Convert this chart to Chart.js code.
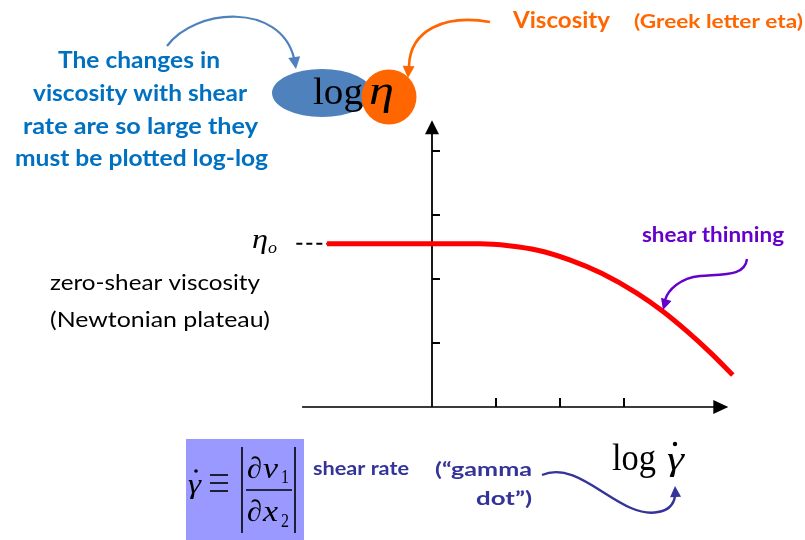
<!DOCTYPE html>
<html>
<head>
<meta charset="utf-8">
<script src="https://cdn.jsdelivr.net/npm/chart.js@4.4.1/dist/chart.umd.min.js"></script>
<style>
  html, body { margin: 0; padding: 0; background: #ffffff; }
  #wrap { width: 805px; height: 540px; position: relative; }
</style>
</head>
<body>
<div id="wrap"><canvas id="c" width="805" height="540"></canvas></div>
<script>
// log(shear rate) and log(viscosity) of the flow curve, in axis tick units
const curveX = [-1.64, 0.75, 1.2, 1.65, 2.15, 2.65, 3.2, 3.6, 4.0, 4.35, 4.7];
const curveY = [2.55, 2.55, 2.52, 2.45, 2.3, 2.09, 1.78, 1.5, 1.17, 0.85, 0.5];
// zero-shear plateau level and the dashed lead-in to its label
const plateauY = 2.55;
const dashX = [-2.12, -1.64];
// tick positions on the two log axes
const xTicks = [1, 2, 3];
const yTicks = [1, 2, 3, 4];
// axis extents (arrow tips)
const xAxisRange = [-2.03, 4.63];
const yAxisRange = [0, 4.48];

const points = curveX.map((x, i) => ({ x: x, y: curveY[i] }));

const SANS = 'Lato, "Open Sans", sans-serif';
const SERIF = '"Liberation Serif", "DejaVu Serif", serif';

function fitText(ctx, str, left, base, font, color, width) {
  ctx.save();
  ctx.font = font;
  const w = ctx.measureText(str).width;
  const s = width ? width / w : 1;
  ctx.translate(left, base);
  ctx.scale(s, 1);
  ctx.fillStyle = color;
  ctx.textAlign = 'left';
  ctx.textBaseline = 'alphabetic';
  ctx.fillText(str, 0, 0);
  ctx.restore();
}

function arrowHead(ctx, tipX, tipY, angle, len, half, color) {
  ctx.save();
  ctx.translate(tipX, tipY);
  ctx.rotate(angle);
  ctx.beginPath();
  ctx.moveTo(0, 0);
  ctx.lineTo(-len, -half);
  ctx.lineTo(-len, half);
  ctx.closePath();
  ctx.fillStyle = color;
  ctx.fill();
  ctx.restore();
}

const axesPlugin = {
  id: 'axesPlugin',
  beforeDatasetsDraw(chart) {
    const ctx = chart.ctx;
    const sx = chart.scales.x, sy = chart.scales.y;
    const X = v => sx.getPixelForValue(v);
    const Y = v => sy.getPixelForValue(v);
    ctx.save();
    // horizontal axis
    ctx.strokeStyle = '#3a3a3a';
    ctx.lineWidth = 2;
    ctx.beginPath();
    ctx.moveTo(X(xAxisRange[0]), Y(0));
    ctx.lineTo(X(xAxisRange[1]) - 10, Y(0));
    ctx.stroke();
    arrowHead(ctx, X(xAxisRange[1]), Y(0), 0, 15, 7, '#000');
    // vertical axis
    ctx.strokeStyle = '#000';
    ctx.lineWidth = 1.8;
    ctx.beginPath();
    ctx.moveTo(X(0), Y(yAxisRange[0]));
    ctx.lineTo(X(0), Y(yAxisRange[1]) + 10);
    ctx.stroke();
    arrowHead(ctx, X(0), Y(yAxisRange[1]), -Math.PI / 2, 14, 7, '#000');
    // ticks
    ctx.lineWidth = 2;
    ctx.strokeStyle = '#000';
    xTicks.forEach(t => {
      ctx.beginPath();
      ctx.moveTo(X(t), Y(0));
      ctx.lineTo(X(t), Y(0) - 9);
      ctx.stroke();
    });
    yTicks.forEach(t => {
      ctx.beginPath();
      ctx.moveTo(X(0), Y(t));
      ctx.lineTo(X(0) + 8, Y(t));
      ctx.stroke();
    });
    // dashed lead-in to the plateau
    ctx.setLineDash([6, 4]);
    ctx.lineWidth = 2;
    ctx.beginPath();
    ctx.moveTo(X(dashX[0]), Y(plateauY));
    ctx.lineTo(X(dashX[1]), Y(plateauY));
    ctx.stroke();
    ctx.setLineDash([]);
    ctx.restore();
  },
  afterDraw(chart) {
    const ctx = chart.ctx;
    const sy = chart.scales.y;
    ctx.save();

    // explanatory text, upper left
    const blue = '#0070C0';
    const bFont = 'bold 22px ' + SANS;
    fitText(ctx, 'The changes in', 58, 68, bFont, blue, 162);
    fitText(ctx, 'viscosity with shear', 33, 101, bFont, blue, 214);
    fitText(ctx, 'rate are so large they', 23, 134, bFont, blue, 235);
    fitText(ctx, 'must be plotted log-log', 15, 166, bFont, blue, 253);

    // blue ellipse and orange circle behind log(eta)
    ctx.fillStyle = '#4F81BD';
    ctx.beginPath();
    ctx.ellipse(322, 93, 50, 24, 0, 0, Math.PI * 2);
    ctx.fill();
    ctx.fillStyle = '#FF6600';
    ctx.beginPath();
    ctx.arc(389, 97, 27.5, 0, Math.PI * 2);
    ctx.fill();
    fitText(ctx, 'log', 313, 104, '38px ' + SERIF, '#000', 50);
    fitText(ctx, 'η', 369, 104, 'italic 40px ' + SERIF, '#000', 25);

    // curved pointer from the text to the ellipse
    ctx.strokeStyle = '#4F81BD';
    ctx.lineWidth = 2.2;
    ctx.beginPath();
    ctx.moveTo(167, 46);
    ctx.bezierCurveTo(195, 8, 280, 2, 294, 58);
    ctx.stroke();
    arrowHead(ctx, 296, 69, Math.PI / 2 - 0.15, 12, 6, '#4F81BD');

    // orange caption and pointer
    const orange = '#FF6600';
    fitText(ctx, 'Viscosity', 513, 28, 'bold 22px ' + SANS, orange, 97);
    fitText(ctx, '(Greek letter eta)', 634, 28, 'bold 18px ' + SANS, orange, 169);
    ctx.strokeStyle = orange;
    ctx.lineWidth = 2.6;
    ctx.beginPath();
    ctx.moveTo(490, 22);
    ctx.bezierCurveTo(445, 14, 410, 30, 409, 66);
    ctx.stroke();
    arrowHead(ctx, 408, 78, Math.PI / 2 + 0.05, 12, 6, orange);

    // eta_0 label at plateau height
    const py = sy.getPixelForValue(plateauY);
    fitText(ctx, 'η', 252, py + 4, 'italic 28px ' + SERIF, '#000', 16);
    fitText(ctx, 'o', 268, py + 9, 'italic 17px ' + SERIF, '#000', 9);
    fitText(ctx, 'zero-shear viscosity', 50, 290, '21px ' + SANS, '#000', 210);
    fitText(ctx, '(Newtonian plateau)', 50, 327, '21px ' + SANS, '#000', 220);

    // shear thinning label and pointer
    const purple = '#6600CC';
    fitText(ctx, 'shear thinning', 642, 242, 'bold 20px ' + SANS, purple, 142);
    ctx.strokeStyle = purple;
    ctx.lineWidth = 2.4;
    ctx.beginPath();
    ctx.moveTo(747, 259);
    ctx.bezierCurveTo(745, 276, 725, 274, 700, 276);
    ctx.bezierCurveTo(680, 278, 668, 290, 665, 300);
    ctx.stroke();
    arrowHead(ctx, 663, 310, Math.PI / 2 + 0.3, 11, 5.5, purple);

    // shear-rate definition box
    ctx.fillStyle = '#9999FF';
    ctx.fillRect(186, 439, 118, 101);
    ctx.fillStyle = '#000';
    fitText(ctx, 'γ', 188, 493, 'italic 28px ' + SERIF, '#000', 13);
    ctx.beginPath();
    ctx.arc(196, 471, 1.8, 0, Math.PI * 2);
    ctx.fill();
    ctx.strokeStyle = '#000';
    ctx.lineWidth = 1.6;
    [475, 483, 491].forEach(yy => {
      ctx.beginPath();
      ctx.moveTo(210, yy);
      ctx.lineTo(228, yy);
      ctx.stroke();
    });
    [242, 295].forEach(xx => {
      ctx.beginPath();
      ctx.moveTo(xx, 447);
      ctx.lineTo(xx, 533);
      ctx.stroke();
    });
    ctx.beginPath();
    ctx.moveTo(246, 490);
    ctx.lineTo(292, 490);
    ctx.stroke();
    fitText(ctx, '∂', 247, 478, '30px ' + SERIF, '#000', 15);
    fitText(ctx, 'v', 263, 478, 'italic 30px ' + SERIF, '#000', 15);
    fitText(ctx, '1', 281, 483, '18px ' + SERIF, '#000', 8);
    fitText(ctx, '∂', 247, 521, '30px ' + SERIF, '#000', 15);
    fitText(ctx, 'x', 263, 521, 'italic 30px ' + SERIF, '#000', 15);
    fitText(ctx, '2', 281, 527, '18px ' + SERIF, '#000', 8);

    // shear-rate captions
    const navy = '#333399';
    fitText(ctx, 'shear rate', 313, 475, 'bold 19px ' + SANS, navy, 96);
    fitText(ctx, '(\u201Cgamma', 435, 476, 'bold 19px ' + SANS, navy, 97);
    fitText(ctx, 'dot\u201D)', 476, 505, 'bold 19px ' + SANS, navy, 56);
    ctx.strokeStyle = navy;
    ctx.lineWidth = 2.4;
    ctx.beginPath();
    ctx.moveTo(542, 475);
    ctx.bezierCurveTo(580, 458, 620, 520, 658, 512);
    ctx.bezierCurveTo(670, 510, 674, 503, 675, 496);
    ctx.stroke();
    arrowHead(ctx, 675, 486, -Math.PI / 2 - 0.05, 11, 5.5, navy);

    // x axis title
    fitText(ctx, 'log', 612, 470, '38px ' + SERIF, '#000', 44);
    fitText(ctx, 'γ', 667, 470, 'italic 34px ' + SERIF, '#000', 17);
    ctx.fillStyle = '#000';
    ctx.beginPath();
    ctx.arc(675, 444, 2.2, 0, Math.PI * 2);
    ctx.fill();

    ctx.restore();
  }
};

const bgPlugin = {
  id: 'bg',
  beforeDraw(chart) {
    const ctx = chart.ctx;
    ctx.save();
    ctx.fillStyle = '#ffffff';
    ctx.fillRect(0, 0, chart.width, chart.height);
    ctx.restore();
  }
};

new Chart(document.getElementById('c'), {
  type: 'line',
  data: {
    datasets: [{
      data: points,
      borderColor: '#FF0000',
      borderWidth: 5,
      pointRadius: 0,
      fill: false,
      cubicInterpolationMode: 'monotone',
      borderCapStyle: 'butt'
    }]
  },
  options: {
    responsive: false,
    animation: false,
    layout: { padding: 0 },
    plugins: { legend: { display: false }, tooltip: { enabled: false } },
    scales: {
      x: { type: 'linear', display: false, min: -432 / 64, max: 373 / 64 },
      y: { type: 'linear', display: false, min: -133 / 64, max: 407 / 64 }
    }
  },
  plugins: [bgPlugin, axesPlugin]
});
</script>
</body>
</html>
